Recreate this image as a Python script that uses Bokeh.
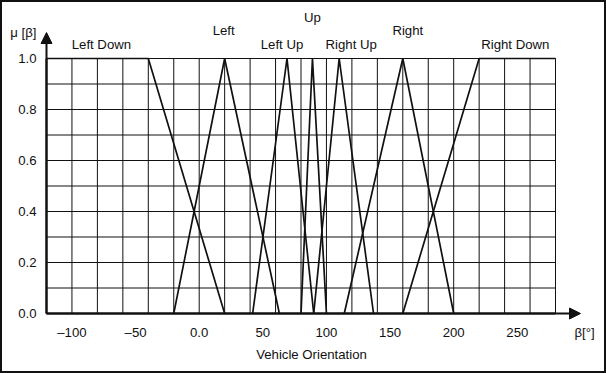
from bokeh.plotting import figure
from bokeh.models import FixedTicker, Arrow, NormalHead, Label, Range1d, NumeralTickFormatter
from bokeh.embed import file_html
from bokeh.resources import INLINE

# ---- data ----
set_names = ["Left Down", "Left", "Left Up", "Up", "Right Up", "Right", "Right Down"]
set_beta = [
    [-120, -40, 20],
    [-20, 20, 63],
    [42, 69, 90],
    [80, 89, 100],
    [90, 110, 137],
    [114, 160, 200],
    [160, 220, 280],
]
set_mu = [
    [1, 1, 0],
    [0, 1, 0],
    [0, 1, 0],
    [0, 1, 0],
    [0, 1, 0],
    [0, 1, 0],
    [0, 1, 1],
]
x_ticks = [-100, -50, 0, 50, 100, 150, 200, 250]
x_tick_labels = ["\u2013100", "\u201350", "0.0", "50", "100", "150", "200", "250"]
y_ticks = [0.0, 0.2, 0.4, 0.6, 0.8, 1.0]
x_grid = list(range(-120, 281, 20))
y_grid = [i / 10 for i in range(11)]
x_min, x_max = -120, 280
y_min, y_max = 0, 1
x_title = "Vehicle Orientation"

# ---- layout / style (pixels) ----
W, H = 606, 373
PL, PR, PT, PB = 46, 555, 58, 313          # plotting area inside the canvas
FONT = "Liberation Sans"
FS = "13.2px"
INK = "#111"
label_dx = [4, -1, -5, 0, 12, 5, -2]       # pixel nudges of the set names
label_py = [43.5, 29.5, 43.5, 16.5, 43.5, 29.5, 43.5]

sx = (PR - PL) / (x_max - x_min)
sy = (PB - PT) / (y_max - y_min)
def dx_(px):  # canvas x pixel -> data
    return x_min + (px - PL) / sx
def dy_(py):  # canvas y pixel -> data
    return y_min + (PB - py) / sy

p = figure(width=W, height=H,
           x_range=Range1d(dx_(0), dx_(W)), y_range=Range1d(dy_(H), dy_(0)),
           output_backend="svg", toolbar_location=None,
           min_border_left=0, min_border_right=0,
           min_border_top=0, min_border_bottom=0,
           background_fill_color="white", border_fill_color="white",
           styles={"position": "absolute", "left": "0px", "top": "0px"})

p.outline_line_color = INK
p.outline_line_width = 3
p.grid.visible = False

# grid of the membership area
p.segment(x0=x_grid, y0=[y_min] * len(x_grid), x1=x_grid, y1=[y_max] * len(x_grid),
          line_color=INK, line_width=1)
p.segment(x0=[x_min] * len(y_grid), y0=y_grid, x1=[x_max] * len(y_grid), y1=y_grid,
          line_color=INK, line_width=1)

for ax in (p.xaxis, p.yaxis):
    ax.major_tick_out = 0
    ax.major_tick_in = 0
    ax.minor_tick_line_color = None
    ax.major_tick_line_color = None
    ax.axis_line_color = INK
    ax.axis_line_width = 2
    ax.major_label_text_font = FONT
    ax.major_label_text_font_size = FS
    ax.major_label_text_color = INK

p.xaxis.fixed_location = y_min
p.xaxis.bounds = (x_min, x_max)
p.xaxis.ticker = FixedTicker(ticks=x_ticks)
p.xaxis.major_label_overrides = dict(zip(x_ticks, x_tick_labels))
p.xaxis.major_label_standoff = 11

p.yaxis.fixed_location = x_min
p.yaxis.bounds = (y_min, y_max)
p.yaxis.ticker = FixedTicker(ticks=y_ticks)
p.yaxis.formatter = NumeralTickFormatter(format="0.0")
p.yaxis.major_label_standoff = 10

for xs, ms in zip(set_beta, set_mu):
    p.line(xs, ms, line_color=INK, line_width=1.7)

# set names above the peaks / plateaus
for name, xs, ms, ddx, py in zip(set_names, set_beta, set_mu, label_dx, label_py):
    top = [x for x, m in zip(xs, ms) if m == max(ms)]
    cx = sum(top) / len(top)
    p.add_layout(Label(x=cx, y=dy_(py), text=name, x_offset=ddx,
                       text_align="center", text_baseline="middle",
                       text_font=FONT, text_font_size=FS, text_color=INK))

# axis arrows
p.add_layout(Arrow(end=NormalHead(size=11, fill_color=INK, line_color=INK, line_width=1),
                   x_start=x_min, y_start=y_min, x_end=x_min, y_end=dy_(32),
                   line_color=INK, line_width=2))
p.add_layout(Arrow(end=NormalHead(size=11, fill_color=INK, line_color=INK, line_width=1),
                   x_start=x_min, y_start=y_min, x_end=dx_(580), y_end=y_min,
                   line_color=INK, line_width=2))

# axis names
p.add_layout(Label(x=x_min, y=dy_(32), x_offset=-10, text="\u03bc [\u03b2]",
                   text_align="right", text_baseline="middle",
                   text_font=FONT, text_font_size=FS, text_color=INK))
p.add_layout(Label(x=dx_(584), y=dy_(332), text="\u03b2[\u00b0]",
                   text_align="center", text_baseline="middle",
                   text_font=FONT, text_font_size=FS, text_color=INK))
p.add_layout(Label(x=dx_(311), y=dy_(353.5), text=x_title,
                   text_align="center", text_baseline="middle",
                   text_font=FONT, text_font_size=FS, text_color=INK))

open("out.html", "w").write(file_html(p, INLINE))
